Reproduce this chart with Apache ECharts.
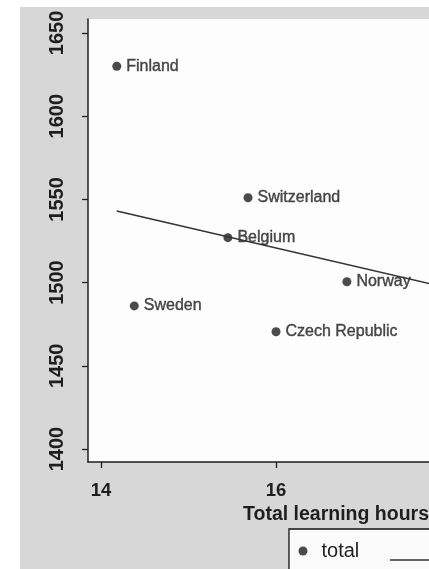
<!DOCTYPE html>
<html>
<head>
<meta charset="utf-8">
<script src="https://cdn.jsdelivr.net/npm/echarts@6/dist/echarts.min.js"></script>
<style>
  html, body { margin: 0; padding: 0; background: #ffffff; }
  #chart { width: 429px; height: 569px; }
</style>
</head>
<body>
<div id="chart"></div>
<script>
// Countries: total learning hours (x) against total score (y)
const countries = ['Finland', 'Switzerland', 'Belgium', 'Norway', 'Sweden', 'Czech Republic'];
const hours     = [14.18, 15.68, 15.45, 16.81, 14.38, 16.0];
const totals    = [1630, 1551, 1527, 1500.5, 1486, 1470.5];

// Fitted regression line, endpoints
const fitHours  = [14.18, 17.9];
const fitTotals = [1543, 1497.6];

// Tick values
const xTicks = [14, 16, 18];
const yTicks = [1400, 1450, 1500, 1550, 1600, 1650];

const ink = '#1e1e1e';
const font = 'Liberation Sans, Arial, sans-serif';

const chart = echarts.init(document.getElementById('chart'), null, { renderer: 'canvas' });

chart.setOption({
  backgroundColor: '#d7d7d7',
  animation: false,
  graphic: [
    { type: 'rect', silent: true, z: -10, shape: { x: 0, y: 0, width: 20, height: 569 }, style: { fill: '#ffffff' } },
    { type: 'rect', silent: true, z: -10, shape: { x: 0, y: 0, width: 429, height: 7 }, style: { fill: '#ffffff' } }
  ],
  grid: {
    left: 88, top: 19, bottom: 107, right: -155,
    outerBoundsMode: 'none',
    containLabel: false,
    show: true, backgroundColor: '#fdfdfd', borderWidth: 0
  },
  xAxis: {
    type: 'value',
    min: 13.851, max: 19.52,
    name: 'Total learning hours',
    nameLocation: 'middle',
    nameGap: 23,
    nameTextStyle: { color: ink, fontSize: 19.5, fontWeight: 'bold', fontFamily: font },
    splitLine: { show: false },
    axisLine: { show: true, onZero: false, lineStyle: { color: ink, width: 1.5 } },
    axisTick: { show: true, customValues: xTicks, length: 6, lineStyle: { color: ink, width: 1.3 } },
    axisLabel: {
      customValues: xTicks, formatter: v => String(v),
      color: ink, fontSize: 18.5, fontWeight: 'bold', fontFamily: font, margin: 19
    }
  },
  yAxis: {
    type: 'value',
    min: 1392.2, max: 1658.4,
    splitLine: { show: false },
    axisLine: { show: true, onZero: false, lineStyle: { color: ink, width: 1.5 } },
    axisTick: { show: true, customValues: yTicks, length: 6, lineStyle: { color: ink, width: 1.3 } },
    axisLabel: {
      customValues: yTicks, formatter: v => String(v), rotate: 90,
      color: ink, fontSize: 20, fontWeight: 'bold', fontFamily: font, margin: 21
    }
  },
  legend: [
    {
      data: [{ name: 'total', icon: 'circle' }],
      left: 289, top: 529,
      orient: 'horizontal',
      itemWidth: 9, itemHeight: 9,
      padding: [12, 200, 30, 9.5],
      borderColor: '#111', borderWidth: 1.3,
      backgroundColor: '#fbfbfb',
      textStyle: { color: ink, fontSize: 20, fontFamily: font, padding: [0, 0, 0, 9] }
    },
    {
      data: [{ name: 'fitted', icon: 'rect' }],
      left: 390, top: 550,
      itemWidth: 45, itemHeight: 1.5,
      padding: 0,
      textStyle: { color: ink, fontSize: 20, fontFamily: font }
    }
  ],
  series: [
    {
      name: 'total',
      type: 'scatter',
      symbol: 'circle',
      symbolSize: 9,
      itemStyle: { color: ink },
      data: hours.map((h, i) => ({ value: [h, totals[i]], name: countries[i] })),
      label: {
        show: true,
        position: 'right',
        distance: 5,
        formatter: p => p.name,
        color: ink,
        fontSize: 16,
        fontFamily: font,
        textBorderColor: ink,
        textBorderWidth: 0.4
      },
      z: 3
    },
    {
      name: 'fitted',
      type: 'line',
      symbol: 'none',
      lineStyle: { color: '#333', width: 1.6 },
      itemStyle: { color: '#333' },
      data: fitHours.map((h, i) => [h, fitTotals[i]]),
      z: 4
    }
  ]
});
</script>
</body>
</html>
